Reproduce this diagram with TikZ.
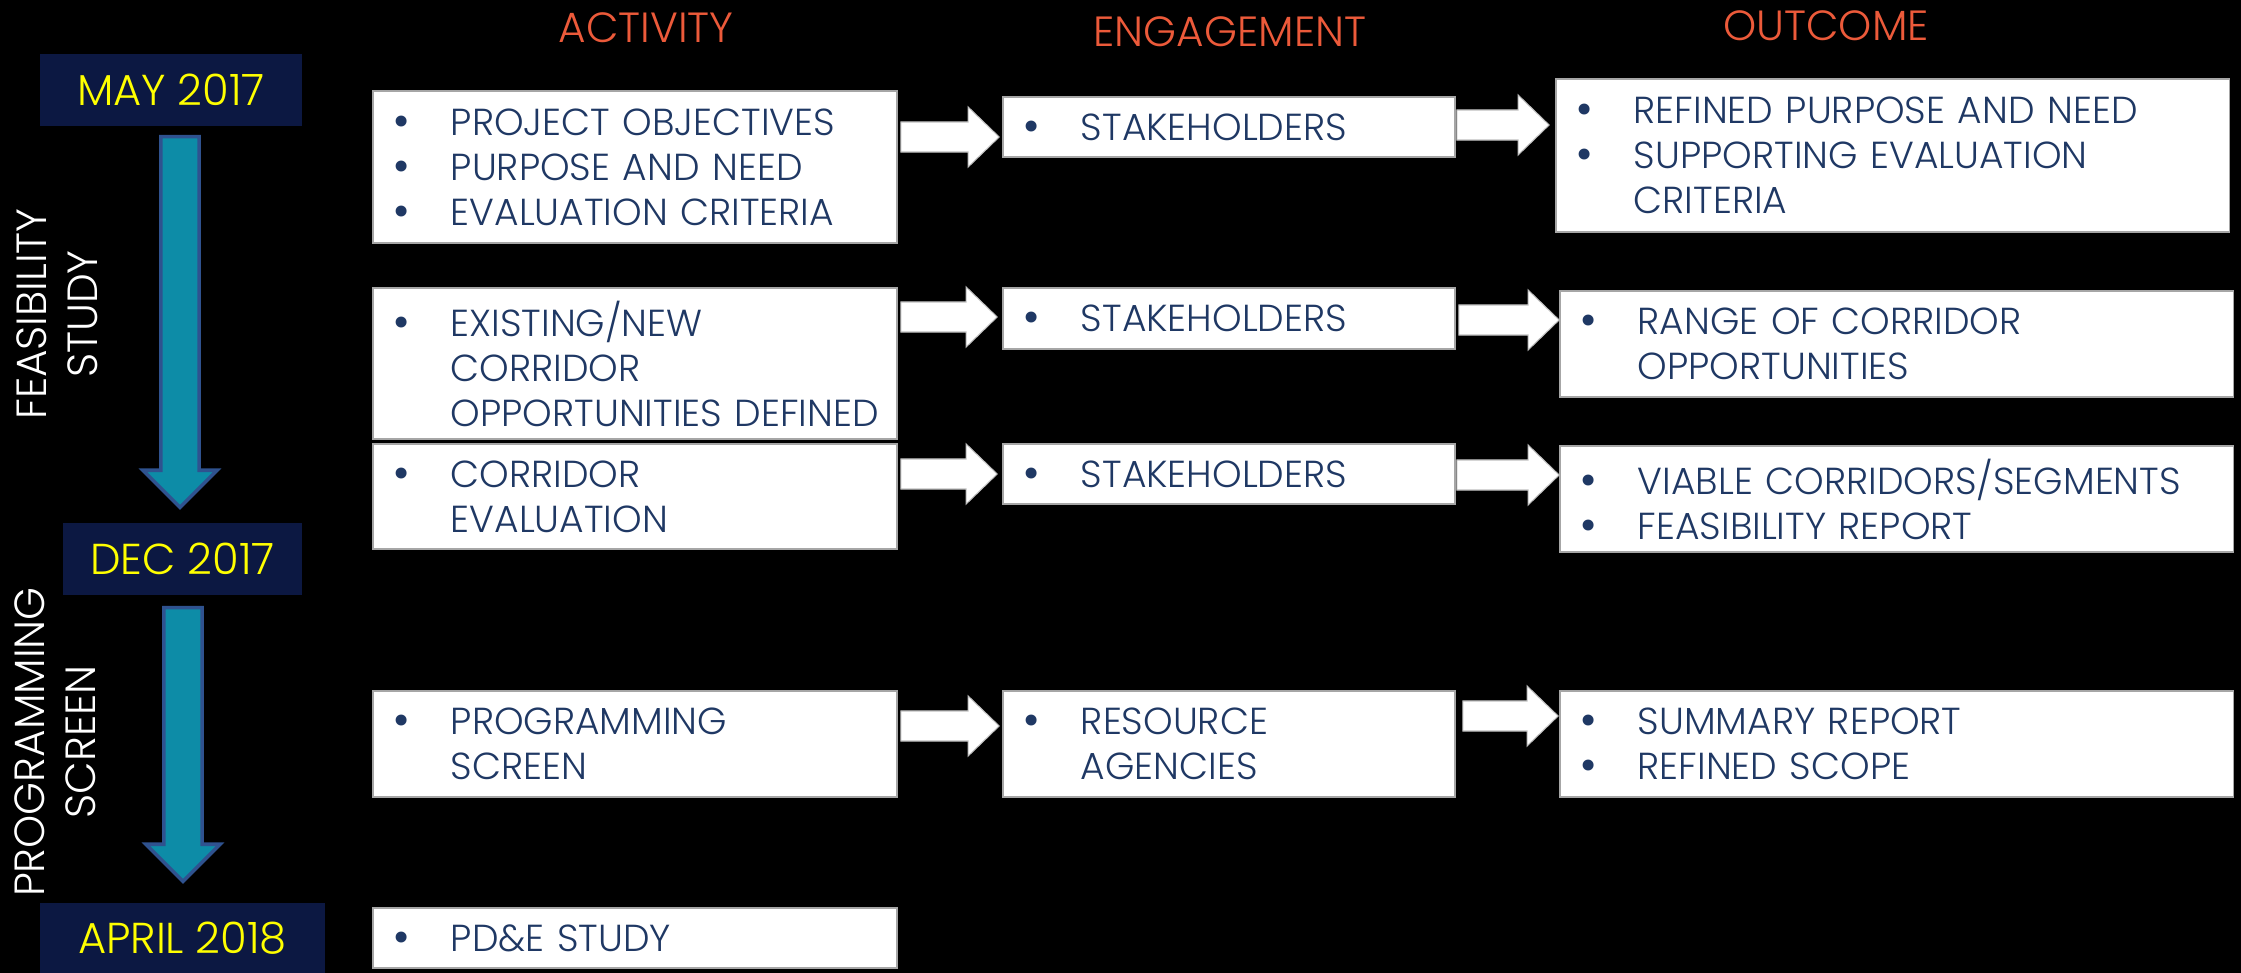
\documentclass[tikz,border=0pt]{standalone}
\usepackage{fontspec}
\setmainfont{Poppins}[UprightFont={* Light}]
\newfontfamily\bulletfont{DejaVu Sans}
\usetikzlibrary{calc}

\definecolor{navybox}{RGB}{12,24,66}
\definecolor{datetext}{RGB}{255,255,0}
\definecolor{headred}{RGB}{236,90,58}
\definecolor{itemblue}{RGB}{31,56,100}
\definecolor{flowteal}{RGB}{13,140,167}
\definecolor{flowedge}{RGB}{47,82,143}

\newcommand{\bitem}[1]{\mbox{\makebox[0.6cm][l]{\bulletfont\textbullet}#1}}
\newcommand{\citem}[1]{\mbox{\hspace*{0.6cm}#1}}

\begin{document}
\begin{tikzpicture}[
  x=0.01cm, y=-0.01cm,
  every node/.style={font=\fontsize{10.7}{12.8}\selectfont},
  heading/.style={text=headred, font=\fontsize{12}{14}\selectfont},
  datebox/.style={fill=navybox, text=datetext, minimum height=0.72cm,
              font=\fontsize{12.3}{14}\selectfont},
  phase/.style={text=white, rotate=90, align=center,
              font=\fontsize{12}{14.5}\selectfont},
  itembox/.style={draw=gray!70, fill=white, text=itemblue, align=left,
              inner xsep=0.18cm, inner ysep=0pt},
  actbox/.style={itembox, text width=4.88cm},
  engbox/.style={itembox, text width=4.16cm},
  outbox/.style={itembox, text width=6.37cm},
  timearrow/.style={fill=flowteal, draw=flowedge, line width=1pt,
    to path={let \p1=(\tikztostart), \p2=(\tikztotarget) in
      (\x1-0.19cm,\y1) -- (\x1+0.19cm,\y1) -- (\x1+0.19cm,\y2+0.37cm)
      -- (\x1+0.37cm,\y2+0.37cm) -- (\x1,\y2) -- (\x1-0.37cm,\y2+0.37cm)
      -- (\x1-0.19cm,\y2+0.37cm) -- cycle}},
  flow/.style={fill=white, draw=gray!50, line width=0.3pt,
    to path={let \p1=(\tikztostart), \p2=(\tikztotarget) in
      (\x1,\y2+0.15cm) -- (\x2-0.31cm,\y2+0.15cm) -- (\x2-0.31cm,\y2+0.3cm)
      -- (\x2,\y2) -- (\x2-0.31cm,\y2-0.3cm) -- (\x2-0.31cm,\y2-0.15cm)
      -- (\x1,\y2-0.15cm) -- cycle}},
]
  \useasboundingbox (0,0) rectangle (2241,973);
  \fill[black] (0,0) rectangle (2241,973);

  \node[heading] (act) at (646,28) {ACTIVITY};
  \node[heading] (eng) at (1230,32) {ENGAGEMENT};
  \node[heading] (out) at (1826,26) {OUTCOME};

  \node[datebox, minimum width=2.62cm] (may) at (171,90) {MAY 2017};
  \node[datebox, minimum width=2.39cm] (dec) at (182.5,559) {DEC 2017};
  \node[datebox, minimum width=2.85cm, minimum height=0.7cm] (apr)
    at (182.5,938) {APRIL 2018};

  \node[phase] (feas) at (57,314) {FEASIBILITY\\STUDY};
  \node[phase] (prog) at (55,742) {PROGRAMMING\\SCREEN};

  \node[actbox, minimum height=1.52cm] (a1) at (635,167)
    {\bitem{PROJECT OBJECTIVES}\\\bitem{PURPOSE AND NEED}\\
     \bitem{EVALUATION CRITERIA}};
  \node[actbox, minimum height=1.51cm] (a2) at (635,363.5)
    {\bitem{EXISTING/NEW}\\\citem{CORRIDOR}\\
     \citem{OPPORTUNITIES DEFINED}};
  \node[actbox, minimum height=1.05cm] (a3) at (635,496.5)
    {\bitem{CORRIDOR}\\\citem{EVALUATION}};
  \node[actbox, minimum height=1.06cm] (a4) at (635,744)
    {\bitem{PROGRAMMING}\\\citem{SCREEN}};
  \node[actbox, minimum height=0.6cm] (a5) at (635,938)
    {\bitem{PD\&E STUDY}};

  \node[engbox, minimum height=0.6cm] (e1) at (1229,127)
    {\bitem{STAKEHOLDERS}};
  \node[engbox, minimum height=0.61cm] (e2) at (1229,318.5)
    {\bitem{STAKEHOLDERS}};
  \node[engbox, minimum height=0.6cm] (e3) at (1229,474)
    {\bitem{STAKEHOLDERS}};
  \node[engbox, minimum height=1.06cm] (e4) at (1229,744)
    {\bitem{RESOURCE}\\\citem{AGENCIES}};

  \node[outbox, minimum height=1.53cm] (o1) at (1892.5,155.5)
    {\bitem{REFINED PURPOSE AND NEED}\\\bitem{SUPPORTING EVALUATION}\\
     \citem{CRITERIA}};
  \node[outbox, minimum height=1.06cm] (o2) at (1896.5,344)
    {\bitem{RANGE OF CORRIDOR}\\\citem{OPPORTUNITIES}};
  \node[outbox, minimum height=1.06cm] (o3) at (1896.5,499)
    {\bitem{VIABLE CORRIDORS/SEGMENTS}\\\bitem{FEASIBILITY REPORT}};
  \node[outbox, minimum height=1.06cm] (o4) at (1896.5,744)
    {\bitem{SUMMARY REPORT}\\\bitem{REFINED SCOPE}};

  \draw[timearrow] ($(may.south)+(9,10)$) to ($(dec.north)+(0,-15)$);
  \draw[timearrow] ($(dec.south)+(0.5,12)$) to ($(apr.north)+(0,-21)$);

  \draw[flow] ($(a1.east)+(3,0)$) to ($(e1.west)+(-3,10)$);
  \draw[flow] ($(e1.east)+(1,0)$) to ($(o1.west)+(-6,-30.5)$);
  \draw[flow] ($(a2.east)+(3,0)$) to ($(e2.west)+(-5,-1.5)$);
  \draw[flow] ($(e2.east)+(3,0)$) to ($(o2.west)+(0,-24)$);
  \draw[flow] ($(a3.east)+(3,0)$) to ($(e3.west)+(-5,0)$);
  \draw[flow] ($(e3.east)+(1,0)$) to ($(o3.west)+(0,-24)$);
  \draw[flow] ($(a4.east)+(3,0)$) to ($(e4.west)+(-3,-18)$);
  \draw[flow] ($(e4.east)+(7,0)$) to ($(o4.west)+(-1,-28)$);
\end{tikzpicture}
\end{document}
